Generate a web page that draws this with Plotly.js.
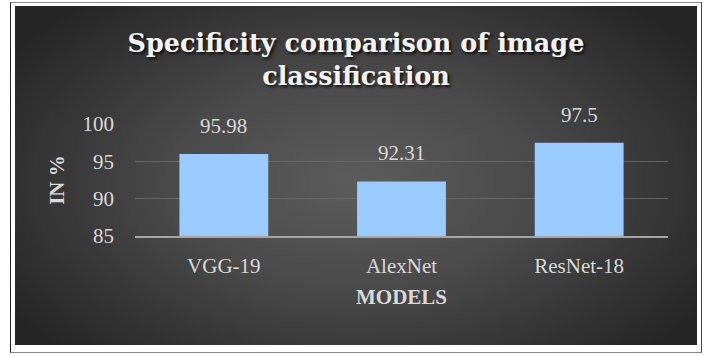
<!DOCTYPE html>
<html>
<head>
<meta charset="utf-8">
<script src="https://cdn.plot.ly/plotly-3.0.1.min.js"></script>
<style>
  html, body { margin: 0; padding: 0; background: #ffffff; width: 705px; height: 356px; overflow: hidden; }
  #frame { position: absolute; left: 10px; top: 2px; width: 690px; height: 349px;
           border-left: 1.5px solid #222; border-top: 1.5px solid #888; border-right: 1.5px solid #444; border-bottom: 1.5px solid #888; }
  #chart { position: absolute; left: 15px; top: 6px; width: 682px; height: 339px;
           background: radial-gradient(ellipse 60% 70% at 50% 52%, #5c5c5c 0%, #4a4a4a 45%, #333333 80%, #262626 100%); }
</style>
</head>
<body>
<div id="frame"></div>
<div id="chart"></div>
<script>
const categories = ["VGG-19", "AlexNet", "ResNet-18"];
const specificity = [95.98, 92.31, 97.5];
const valueLabels = ["95.98", "92.31", "97.5"];
const yTicks = [85, 90, 95, 100];

const serif = "Liberation Serif, Times New Roman, serif";

const trace = {
  type: "bar",
  x: categories,
  y: specificity,
  marker: { color: "#99cbfd", line: { width: 0 } },
  hoverinfo: "none"
};

const annotations = categories.map((c, i) => ({
  x: c, y: specificity[i], xref: "x", yref: "y",
  text: valueLabels[i], showarrow: false,
  yanchor: "bottom", yshift: 14,
  font: { family: serif, size: 21, color: "#d9d9d9" }
}));

const layout = {
  width: 682, height: 339,
  paper_bgcolor: "rgba(0,0,0,0)",
  plot_bgcolor: "rgba(0,0,0,0)",
  margin: { l: 120, r: 29, t: 118, b: 108.5, autoexpand: false },
  bargap: 0.5,
  showlegend: false,
  title: {
    text: "<b>Specificity comparison of image<br>classification</b>",
    x: 0.5, xanchor: "center",
    yref: "container", y: 1 - 46 / 339, yanchor: "top",
    font: { family: "DejaVu Serif", size: 25.5, color: "#f2f2f2",
            shadow: "2px 2px 3px rgba(0,0,0,0.8)" }
  },
  xaxis: {
    type: "category",
    showline: true, linecolor: "#a6a6a6", linewidth: 1.5,
    showgrid: false, zeroline: false,
    ticks: "", ticklabelstandoff: 10,
    tickfont: { family: serif, size: 21, color: "#d9d9d9" },
    title: { text: "<b>MODELS</b>", standoff: 12,
             font: { family: serif, size: 21, color: "#d9d9d9" } }
  },
  yaxis: {
    range: [85, 100],
    tickvals: yTicks,
    ticktext: yTicks.map(String),
    showgrid: true, gridcolor: "#666666", gridwidth: 1,
    zeroline: false, showline: false,
    ticks: "", ticklabelstandoff: 20,
    tickfont: { family: serif, size: 21, color: "#d9d9d9" },
    title: { text: "<b>IN %</b>", standoff: 12,
             font: { family: serif, size: 21, color: "#d9d9d9" } }
  },
  annotations: annotations
};

Plotly.newPlot("chart", [trace], layout, { displayModeBar: false, staticPlot: true });
</script>
</body>
</html>
